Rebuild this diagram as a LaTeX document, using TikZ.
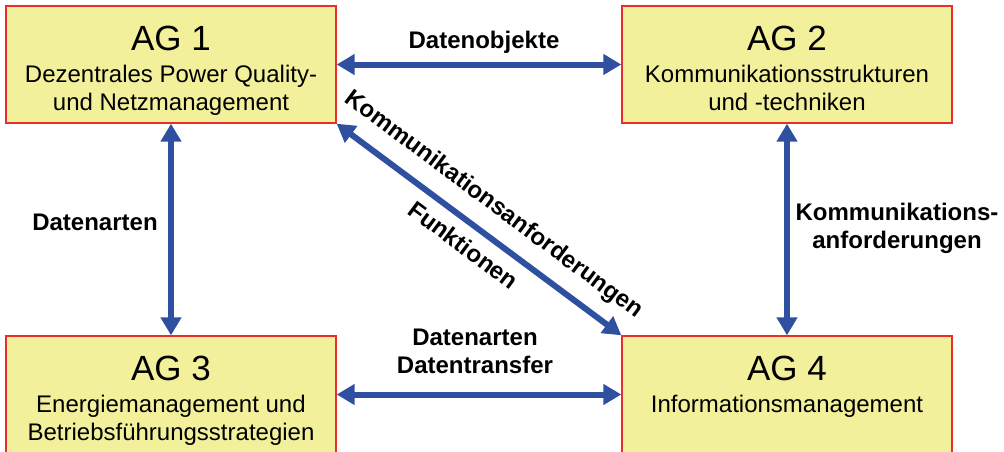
\documentclass[tikz,border=0pt]{standalone}
\usepackage{fontspec}
\setmainfont{Liberation Sans}
\usetikzlibrary{arrows.meta}
\definecolor{boxfill}{RGB}{243,240,155}
\definecolor{boxline}{RGB}{234,45,45}
\definecolor{arrowblue}{RGB}{47,79,160}
\tikzset{
  agbox/.style={draw=boxline, fill=boxfill, line width=1.4pt, minimum width=330pt, minimum height=117pt, inner sep=0pt},
  agtitle/.style={font=\fontsize{35}{40}\selectfont, inner sep=0pt, anchor=base},
  agsub/.style={font=\fontsize{24}{28}\selectfont, inner sep=0pt, anchor=base, align=center},
  lbl/.style={font=\fontsize{24}{28}\selectfont\bfseries, inner sep=0pt, align=center},
  link/.style={arrowblue, line width=6pt, {Triangle[length=18pt,width=20pt]}-{Triangle[length=18pt,width=20pt]}}
}
\begin{document}
\begin{tikzpicture}[x=1pt,y=-1pt]
\useasboundingbox (0,0) rectangle (1004,451);
\clip (0,0) rectangle (1004,451);
% boxes
\node[agbox] (ag1) at (171,64.5) {};
\node[agbox] (ag2) at (787,64.5) {};
\node[agbox] (ag3) at (171,394.5) {};
\node[agbox] (ag4) at (787,394.5) {};
% box texts
\node[agtitle] (t1) at (171,50) {AG 1};
\node[agsub] (s1a) at (171,82) {Dezentrales Power Quality-};
\node[agsub] (s1b) at (171,110) {und Netzmanagement};
\node[agtitle] (t2) at (787,50) {AG 2};
\node[agsub] (s2a) at (787,82) {Kommunikationsstrukturen};
\node[agsub] (s2b) at (787,110) {und -techniken};
\node[agtitle] (t3) at (171,380) {AG 3};
\node[agsub] (s3a) at (171,412) {Energiemanagement und};
\node[agsub] (s3b) at (171,440) {Betriebsführungsstrategien};
\node[agtitle] (t4) at (787,380) {AG 4};
\node[agsub] (s4a) at (787,412) {Informationsmanagement};
% connectors
\draw[link] (ag1.east) -- (ag2.west);
\draw[link] (ag1.south) -- (ag3.north);
\draw[link] (ag2.south) -- (ag4.north);
\draw[link] (ag3.east) -- (ag4.west);
\draw[link] (ag1.south east) -- (ag4.north west);
% labels
\node[lbl, anchor=base] (l12) at (484,48) {Datenobjekte};
\node[lbl, anchor=base] (l13) at (95,230) {Datenarten};
\node[lbl, anchor=base] (l24a) at (897,220) {Kommunikations-};
\node[lbl, anchor=base] (l24b) at (897,248) {anforderungen};
\node[lbl, anchor=base] (l34a) at (475,345) {Datenarten};
\node[lbl, anchor=base] (l34b) at (475,373) {Datentransfer};
\node[lbl, rotate=-36.7] (ld1) at (493.5,205) {Kommunikationsanforderungen};
\node[lbl, rotate=-36.7] (ld2) at (463.5,245) {Funktionen};
\end{tikzpicture}
\end{document}
